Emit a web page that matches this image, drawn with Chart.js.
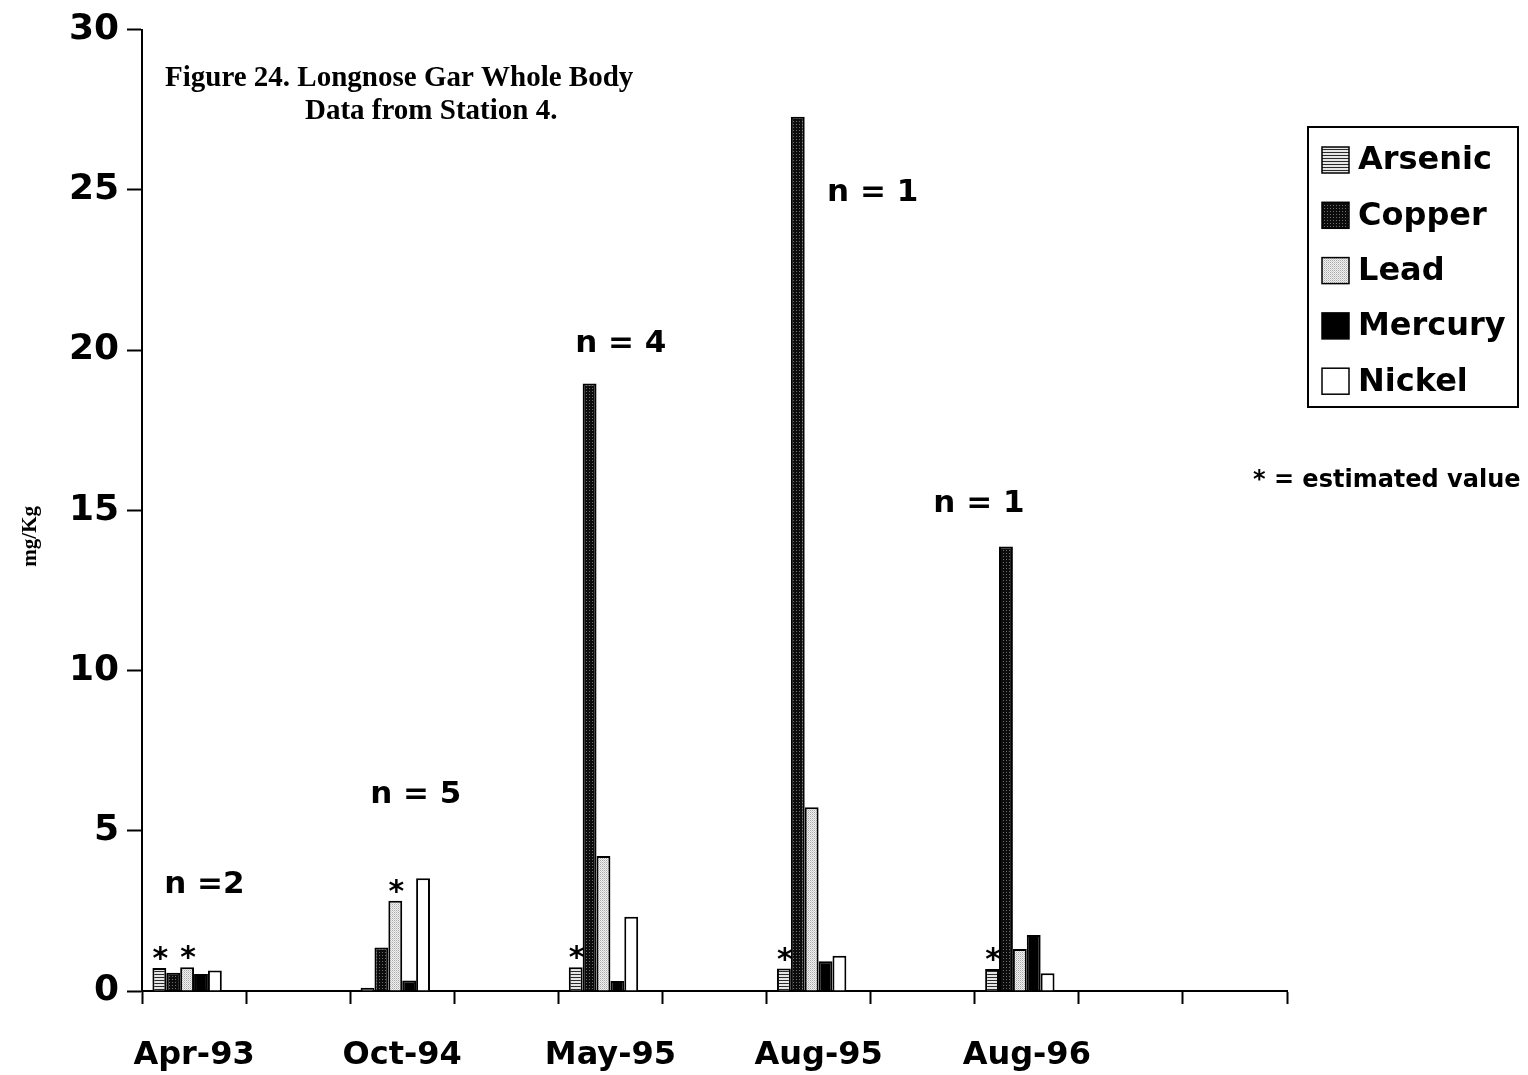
<!DOCTYPE html>
<html>
<head>
<meta charset="utf-8">
<script src="https://cdn.jsdelivr.net/npm/chart.js@4/dist/chart.umd.min.js"></script>
<style>
  html, body { margin: 0; padding: 0; background: #fff; }
  #wrap { width: 1528px; height: 1075px; position: relative; }
</style>
</head>
<body>
<div id="wrap"><canvas id="chart" width="1528" height="1075"></canvas></div>
<script>
// Sampling dates (only every other slot carries a label)
const categories = ['Apr-93', '', 'Oct-94', '', 'May-95', '', 'Aug-95', '', 'Aug-96', '', ''];

// Whole-body concentrations, mg/Kg
const arsenic = [0.72, null, 0.10, null, 0.74, null, 0.70, null, 0.69, null, null];
const copper  = [0.57, null, 1.36, null, 18.96, null, 27.28, null, 13.87, null, null];
const lead    = [0.74, null, 2.82, null, 4.21, null, 5.73, null, 1.31, null, null];
const mercury = [0.53, null, 0.33, null, 0.31, null, 0.93, null, 1.75, null, null];
const nickel  = [0.64, null, 3.52, null, 2.32, null, 1.10, null, 0.55, null, null];

// Values flagged as estimated ("*")
const arsenicEstimated = [true, false, false, false, true, false, true, false, true, false, false];
const leadEstimated    = [true, false, true, false, false, false, false, false, false, false, false];

// Number of fish per sampling event
const sampleSizes = ['n =2', 'n = 5', 'n = 4', 'n = 1', 'n = 1'];

const yTickValues = [0, 5, 10, 15, 20, 25, 30];

// ---- fill patterns -------------------------------------------------------
function makePattern(w, h, paint) {
  const c = document.createElement('canvas');
  c.width = w; c.height = h;
  const g = c.getContext('2d');
  paint(g);
  return g.createPattern(c, 'repeat');
}
const ctx = document.getElementById('chart').getContext('2d');
const hatchArsenic = makePattern(1, 3, g => {
  g.fillStyle = '#e6e6e6'; g.fillRect(0, 0, 1, 3);
  g.fillStyle = '#2a2a2a'; g.fillRect(0, 2, 1, 1);
});
const hatchCopper = makePattern(3, 3, g => {
  g.fillStyle = '#0c0c0c'; g.fillRect(0, 0, 3, 3);
  g.fillStyle = '#6e6e6e'; g.fillRect(1, 1, 1, 1);
});
const hatchLead = makePattern(2, 2, g => {
  g.fillStyle = '#f2f2f2'; g.fillRect(0, 0, 2, 2);
  g.fillStyle = '#a8a8a8'; g.fillRect(0, 0, 1, 1);
  g.fillStyle = '#cccccc'; g.fillRect(1, 1, 1, 1);
});

function series(label, data, fill) {
  return { label, data, backgroundColor: fill, borderColor: '#000', borderWidth: 2 };
}

// ---- custom drawing: legend, notes, estimate flags -----------------------
const annotations = {
  id: 'annotations',
  afterDatasetsDraw(chart, args, opts) {
    const c = chart.ctx;
    const xs = chart.scales.x, ys = chart.scales.y;
    const area = chart.chartArea;
    c.save();
    c.fillStyle = '#000';

    // estimate flags above bars
    c.font = 'bold 30px "DejaVu Sans"';
    c.textAlign = 'center';
    c.textBaseline = 'alphabetic';
    opts.flags.forEach(f => {
      const meta = chart.getDatasetMeta(f.dataset);
      f.values.forEach((isEst, i) => {
        if (!isEst) return;
        const bar = meta.data[i];
        c.fillText('*', bar.x + 1, bar.y);
      });
    });

    // sample size notes
    c.font = 'bold 31px "DejaVu Sans"';
    c.textBaseline = 'middle';
    sampleSizes.forEach((t, i) => {
      const a = opts.sampleAnchors[i];
      c.fillText(t, xs.getPixelForValue(a[0]), ys.getPixelForValue(a[1]));
    });

    // figure caption
    c.font = 'bold 29px "Liberation Serif"';
    c.textAlign = 'left';
    c.textBaseline = 'alphabetic';
    c.fillText('Figure 24. Longnose Gar Whole Body', area.left + 23, area.top + 56);
    c.fillText('Data from Station 4.', area.left + 163, area.top + 89);

    // y axis title
    c.save();
    c.translate(31, (area.top + area.bottom) / 2 + 26);
    c.rotate(-Math.PI / 2);
    c.font = 'bold 21px "Liberation Serif"';
    c.textAlign = 'center';
    c.textBaseline = 'middle';
    c.fillText('mg/Kg', 0, 0);
    c.restore();

    // legend box
    const lx = 1308, ly = 127, lw = 210, lh = 280;
    c.lineWidth = 2;
    c.strokeStyle = '#000';
    c.strokeRect(lx, ly, lw, lh);
    c.font = 'bold 32px "DejaVu Sans"';
    c.textBaseline = 'middle';
    chart.data.datasets.filter(d => d.label).forEach((d, i) => {
      const cy = ly + 33 + i * 55.3;
      c.fillStyle = d.backgroundColor;
      c.fillRect(lx + 14, cy - 13, 27, 26);
      c.strokeStyle = '#000';
      c.lineWidth = 1.5;
      c.strokeRect(lx + 14, cy - 13, 27, 26);
      c.fillStyle = '#000';
      c.fillText(d.label, lx + 50, cy + 1);
    });

    // key for the asterisk
    c.font = 'bold 24px "DejaVu Sans"';
    c.fillText('* = estimated value', 1253, 481);
    c.restore();
  }
};

new Chart(ctx, {
  type: 'bar',
  data: {
    labels: categories,
    datasets: [
      series('Arsenic', arsenic, hatchArsenic),
      series('Copper', copper, hatchCopper),
      series('Lead', lead, hatchLead),
      series('Mercury', mercury, '#000'),
      series('Nickel', nickel, '#fff'),
      // empty sixth slot keeps each group left of its category centre
      { label: '', data: categories.map(() => null), backgroundColor: 'rgba(0,0,0,0)', borderWidth: 0 }
    ]
  },
  options: {
    responsive: false,
    animation: false,
    devicePixelRatio: 1,
    layout: { padding: { top: 25, right: 241, bottom: 0, left: 0 } },
    datasets: { bar: { categoryPercentage: 0.8, barPercentage: 1.0 } },
    plugins: {
      legend: { display: false },
      tooltip: { enabled: false },
      annotations: {
        flags: [ { dataset: 0, values: arsenicEstimated }, { dataset: 2, values: leadEstimated } ],
        sampleAnchors: [ [0.1, 3.3], [2.13, 6.13], [4.1, 20.2], [6.52, 24.9], [7.54, 15.2] ]
      }
    },
    scales: {
      x: {
        grid: { display: true, drawOnChartArea: false, offset: true, tickLength: 13, tickWidth: 2, tickColor: '#000' },
        border: { display: true, color: '#000', width: 2 },
        ticks: {
          autoSkip: false, maxRotation: 0, minRotation: 0, padding: 32,
          color: '#000', font: { family: 'DejaVu Sans', weight: 'bold', size: 32 }
        },
        afterFit: s => { s.height = 84; }
      },
      y: {
        min: 0, max: 30,
        afterBuildTicks: s => { s.ticks = yTickValues.map(v => ({ value: v })); },
        grid: { display: true, drawOnChartArea: false, tickLength: 15, tickWidth: 2, tickColor: '#000' },
        border: { display: true, color: '#000', width: 2 },
        ticks: {
          padding: 8, color: '#000',
          font: { family: 'DejaVu Sans', weight: 'bold', size: 36 }
        },
        afterFit: s => { s.width = 142; }
      }
    }
  },
  plugins: [annotations]
});
</script>
</body>
</html>
